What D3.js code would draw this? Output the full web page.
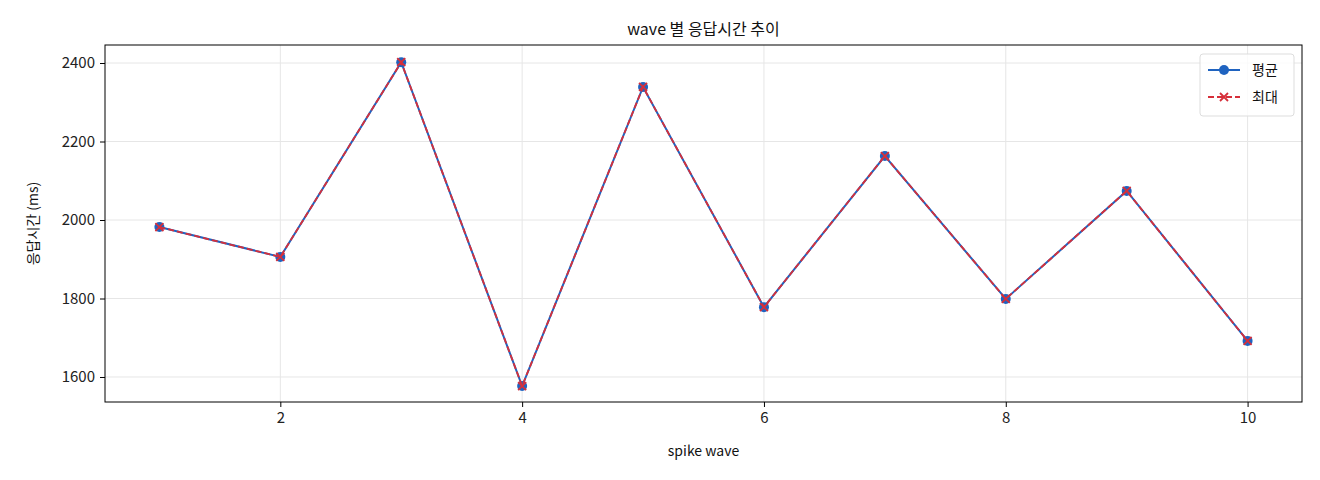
<!DOCTYPE html>
<html><head><meta charset="utf-8">
<script src="https://cdn.jsdelivr.net/npm/d3@7"></script>
<style>body{margin:0;background:#fff}text{font-family:"Noto Sans CJK KR","DejaVu Sans",sans-serif}</style>
</head><body><div id="container"></div>
<script>
const waves = [1, 2, 3, 4, 5, 6, 7, 8, 9, 10];
const avgMs = [1982, 1906, 2402, 1577, 2339, 1778, 2163, 1799, 2074, 1692];
const maxMs = [1982, 1906, 2402, 1577, 2339, 1778, 2163, 1799, 2074, 1692];
const xTicks = [2, 4, 6, 8, 10];
const yTicks = [1600, 1800, 2000, 2200, 2400];

const width = 1320, height = 480,
  margin = {top: 45, bottom: 78, left: 105, right: 18};

const svg = d3.select("#container").append("svg")
  .attr("width", width).attr("height", height);

const xScale = d3.scaleLinear().domain([0.55, 10.45]).range([margin.left, width - margin.right]);
const yScale = d3.scaleLinear().domain([1536.3, 2445.9]).range([height - margin.bottom, margin.top]);

// grid
svg.append("g").selectAll("line").data(xTicks).join("line")
  .attr("x1", d => xScale(d)).attr("x2", d => xScale(d))
  .attr("y1", margin.top).attr("y2", height - margin.bottom)
  .attr("stroke", "#e6e6e6");
svg.append("g").selectAll("line").data(yTicks).join("line")
  .attr("y1", d => yScale(d)).attr("y2", d => yScale(d))
  .attr("x1", margin.left).attr("x2", width - margin.right)
  .attr("stroke", "#e6e6e6");

const xAxis = svg.append("g").attr("transform", `translate(0,${height - margin.bottom})`)
  .call(d3.axisBottom(xScale).tickValues(xTicks).tickFormat(d3.format("d")).tickSize(5).tickPadding(5));
const yAxis = svg.append("g").attr("transform", `translate(${margin.left},0)`)
  .call(d3.axisLeft(yScale).tickValues(yTicks).tickFormat(d3.format("d")).tickSize(5).tickPadding(5));
[xAxis, yAxis].forEach(g => {
  g.select(".domain").remove();
  g.selectAll("text").attr("font-size", 15).attr("fill", "#222");
});

svg.append("rect").attr("x", margin.left).attr("y", margin.top)
  .attr("width", width - margin.left - margin.right).attr("height", height - margin.top - margin.bottom)
  .attr("fill", "none").attr("stroke", "#000");

const line = d3.line().x((d, i) => xScale(waves[i])).y(d => yScale(d));

svg.append("path").datum(avgMs).attr("d", line)
  .attr("fill", "none").attr("stroke", "#1f63c0").attr("stroke-width", 2);
svg.append("g").selectAll("circle").data(avgMs).join("circle")
  .attr("cx", (d, i) => xScale(waves[i])).attr("cy", d => yScale(d))
  .attr("r", 5).attr("fill", "#1f63c0");

svg.append("path").datum(maxMs).attr("d", line)
  .attr("fill", "none").attr("stroke", "#d62f3a").attr("stroke-width", 1.8)
  .attr("stroke-dasharray", "6,3");
const cross = (g, x, y, s) => g.append("path")
  .attr("d", `M${x - s},${y - s}L${x + s},${y + s}M${x - s},${y + s}L${x + s},${y - s}`)
  .attr("stroke", "#d62f3a").attr("stroke-width", 1.8);
const cg = svg.append("g");
maxMs.forEach((d, i) => cross(cg, xScale(waves[i]), yScale(d), 4));

svg.append("text").attr("x", (margin.left + width - margin.right) / 2).attr("y", 35)
  .attr("text-anchor", "middle").attr("font-size", 16).attr("fill", "#111").text("wave 별 응답시간 추이");
svg.append("text").attr("x", (margin.left + width - margin.right) / 2).attr("y", 456)
  .attr("text-anchor", "middle").attr("font-size", 14).attr("fill", "#111").text("spike wave");
svg.append("text").attr("transform", `translate(38,${(margin.top + height - margin.bottom) / 2}) rotate(-90)`)
  .attr("text-anchor", "middle").attr("font-size", 14).attr("fill", "#111").text("응답시간 (ms)");

// legend
const lg = svg.append("g").attr("transform", "translate(1200,54)");
lg.append("rect").attr("width", 94).attr("height", 62).attr("rx", 3)
  .attr("fill", "#fff").attr("fill-opacity", 0.8).attr("stroke", "#ddd");
lg.append("line").attr("x1", 8).attr("x2", 40).attr("y1", 16).attr("y2", 16)
  .attr("stroke", "#1f63c0").attr("stroke-width", 2);
lg.append("circle").attr("cx", 24).attr("cy", 16).attr("r", 5).attr("fill", "#1f63c0");
lg.append("line").attr("x1", 8).attr("x2", 40).attr("y1", 43).attr("y2", 43)
  .attr("stroke", "#d62f3a").attr("stroke-width", 1.8).attr("stroke-dasharray", "6,3");
cross(lg, 24, 43, 4);
lg.append("text").attr("x", 52).attr("y", 21).attr("font-size", 14).attr("fill", "#111").text("평균");
lg.append("text").attr("x", 52).attr("y", 48).attr("font-size", 14).attr("fill", "#111").text("최대");
</script></body></html>
